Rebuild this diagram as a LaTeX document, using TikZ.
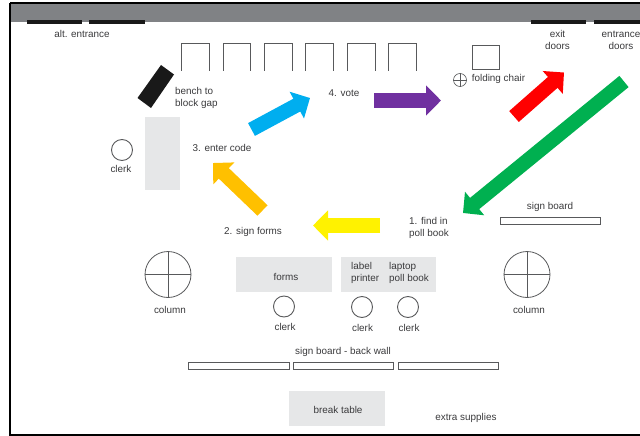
\documentclass[tikz,border=0pt]{standalone}
\usepackage{fontspec}
\setmainfont{Liberation Sans}
\usetikzlibrary{arrows.meta}
\definecolor{bandGray}{HTML}{808285}
\definecolor{tableGray}{HTML}{E6E7E8}
\definecolor{inkGray}{HTML}{58595B}
\definecolor{textGray}{HTML}{3A3A3C}

\begin{document}
\begin{tikzpicture}[x=1pt, y=-1pt]
  \tikzset{
    label text/.style={font=\fontsize{9.9}{12}\selectfont, text=textGray, align=left, inner sep=0pt},
    table box/.style={fill=tableGray, draw=none, minimum width=#1, minimum height=35pt, inner sep=0pt},
    door/.style={fill=black!90, draw=none},
    chair/.style={draw=inkGray, line width=0.8pt},
    board/.style={draw=inkGray, line width=0.8pt, fill=white},
    clerk/.style={circle, draw=inkGray, line width=0.9pt, minimum size=21pt, inner sep=0pt},
    column/.style={circle, draw=inkGray, line width=0.8pt, minimum size=46pt, inner sep=0pt},
    flow/.style={line width=14.5pt, -{Triangle[length=15pt, width=29.5pt]}, #1}
  }
  \definecolor{flowBlue}{HTML}{00AEEF}
  \definecolor{flowOrange}{HTML}{FFC000}
  \definecolor{flowPurple}{HTML}{7030A0}
  \definecolor{flowGreen}{HTML}{00B050}
  \definecolor{flowYellow}{HTML}{FFF200}
  \useasboundingbox (0,0) rectangle (640,436);

  \fill[bandGray] (10,3) rectangle (640,22);
  \draw[black, line width=1.5pt] (640,3) -- (10,3);
  \draw[black, line width=2pt] (10,3) -- (10,435) -- (640,435);

  \fill[door] (27,20) rectangle (82,24.5);
  \fill[door] (89,20) rectangle (145,24.5);
  \fill[door] (531,20) rectangle (586,24.5);
  \fill[door] (594,20) rectangle (640,24.5);
  \node[label text] (alt-text) at (82,34) {alt. entrance};
  \node[label text, align=center] (exit-text) at (557.5,40) {exit\\doors};
  \node[label text, align=center] (entrance-text) at (621,40) {entrance\\doors};

  \draw[chair] (181,71) |- (209,43) -- (209,71);
  \draw[chair] (223,71) |- (250,43) -- (250,71);
  \draw[chair] (264,71) |- (292,43) -- (292,71);
  \draw[chair] (305,71) |- (333,43) -- (333,71);
  \draw[chair] (347,71) |- (375,43) -- (375,71);
  \draw[chair] (388,71) |- (416,43) -- (416,71);

  \draw[chair] (472,45) rectangle (499,69);
  \node[circle, draw=inkGray, line width=0.6pt, minimum size=13pt, inner sep=0pt] (stool) at (460,80) {};
  \draw[inkGray, line width=0.6pt] (stool.north) -- (stool.south);
  \draw[inkGray, line width=0.6pt] (stool.west) -- (stool.east);
  \node[label text] (stool-text) at (498.5,79) {folding chair};

  \fill[black!90] (161,65) -- (174,74.5) -- (151,108) -- (137.5,98) -- cycle;
  \node[label text, anchor=north west] (bench-text) at (175,87) {bench to\\block gap};

  \fill[tableGray] (145,117) rectangle (180,190);
  \node[clerk] (clerk-side) at (122,150) {};
  \node[label text] (clerk-side-text) at (121,169) {clerk};

  \node[label text] (step-three) at (222,148) {3. enter code};
  \node[label text] (step-four) at (344,93) {4. vote};
  \node[label text] (step-two) at (253,232) {2. sign forms};
  \node[label text, anchor=north west] (step-one) at (409,217.5) {1. find in\\poll book};

  \coordinate (green-a) at (624,81.5);
  \coordinate (green-b) at (463,213);
  \coordinate (yellow-a) at (380,225.5);
  \coordinate (yellow-b) at (313,225.5);
  \coordinate (orange-a) at (262.5,210.5);
  \coordinate (orange-b) at (213,163);
  \coordinate (blue-a) at (251.5,129.5);
  \coordinate (blue-b) at (310,98);
  \coordinate (purple-a) at (374,100.5);
  \coordinate (purple-b) at (441,100.5);
  \coordinate (red-a) at (514,116.5);
  \coordinate (red-b) at (564,72.5);
  \draw[flow=flowGreen] (green-a) -- (green-b);
  \draw[flow=flowYellow] (yellow-a) -- (yellow-b);
  \draw[flow=flowOrange] (orange-a) -- (orange-b);
  \draw[flow=flowBlue] (blue-a) -- (blue-b);
  \draw[flow=flowPurple] (purple-a) -- (purple-b);
  \draw[flow=red] (red-a) -- (red-b);

  \node[label text] (sign-text) at (550,207) {sign board};
  \draw[board] (500,217) rectangle (600,224);

  \node[table box=96pt] (forms) at (284,274.5) {};
  \node[label text] (forms-text) at (286,277) {forms};
  \node[table box=95pt] (printer) at (388.5,274.5) {};
  \node[label text, anchor=north west] (printer-text) at (351,262) {label\\printer};
  \node[label text, anchor=north west] (laptop-text) at (389,262) {laptop\\poll book};

  \node[clerk] (clerk-forms) at (284,306.5) {};
  \node[clerk] (clerk-printer) at (362,307) {};
  \node[clerk] (clerk-laptop) at (408,307) {};
  \node[label text] (clerk-forms-text) at (285,327) {clerk};
  \node[label text] (clerk-printer-text) at (362.5,328) {clerk};
  \node[label text] (clerk-laptop-text) at (409,328) {clerk};

  \node[column] (column-left) at (168,274.5) {};
  \draw[inkGray, line width=0.8pt] (column-left.north) -- (column-left.south);
  \draw[inkGray, line width=0.8pt] (column-left.west) -- (column-left.east);
  \node[label text] (column-left-text) at (170,310) {column};
  \node[column] (column-right) at (527,274.5) {};
  \draw[inkGray, line width=0.8pt] (column-right.north) -- (column-right.south);
  \draw[inkGray, line width=0.8pt] (column-right.west) -- (column-right.east);
  \node[label text] (column-right-text) at (529,310) {column};

  \node[label text] (wall-text) at (343,352) {sign board - back wall};
  \draw[board] (188,362) rectangle (289,369);
  \draw[board] (293,362) rectangle (393,369);
  \draw[board] (398,362) rectangle (498,369);

  \node[table box=96pt] (break) at (337,408.5) {};
  \node[label text] (break-text) at (338,410) {break table};
  \node[label text] (extra-text) at (466,418) {extra supplies};
\end{tikzpicture}
\end{document}
